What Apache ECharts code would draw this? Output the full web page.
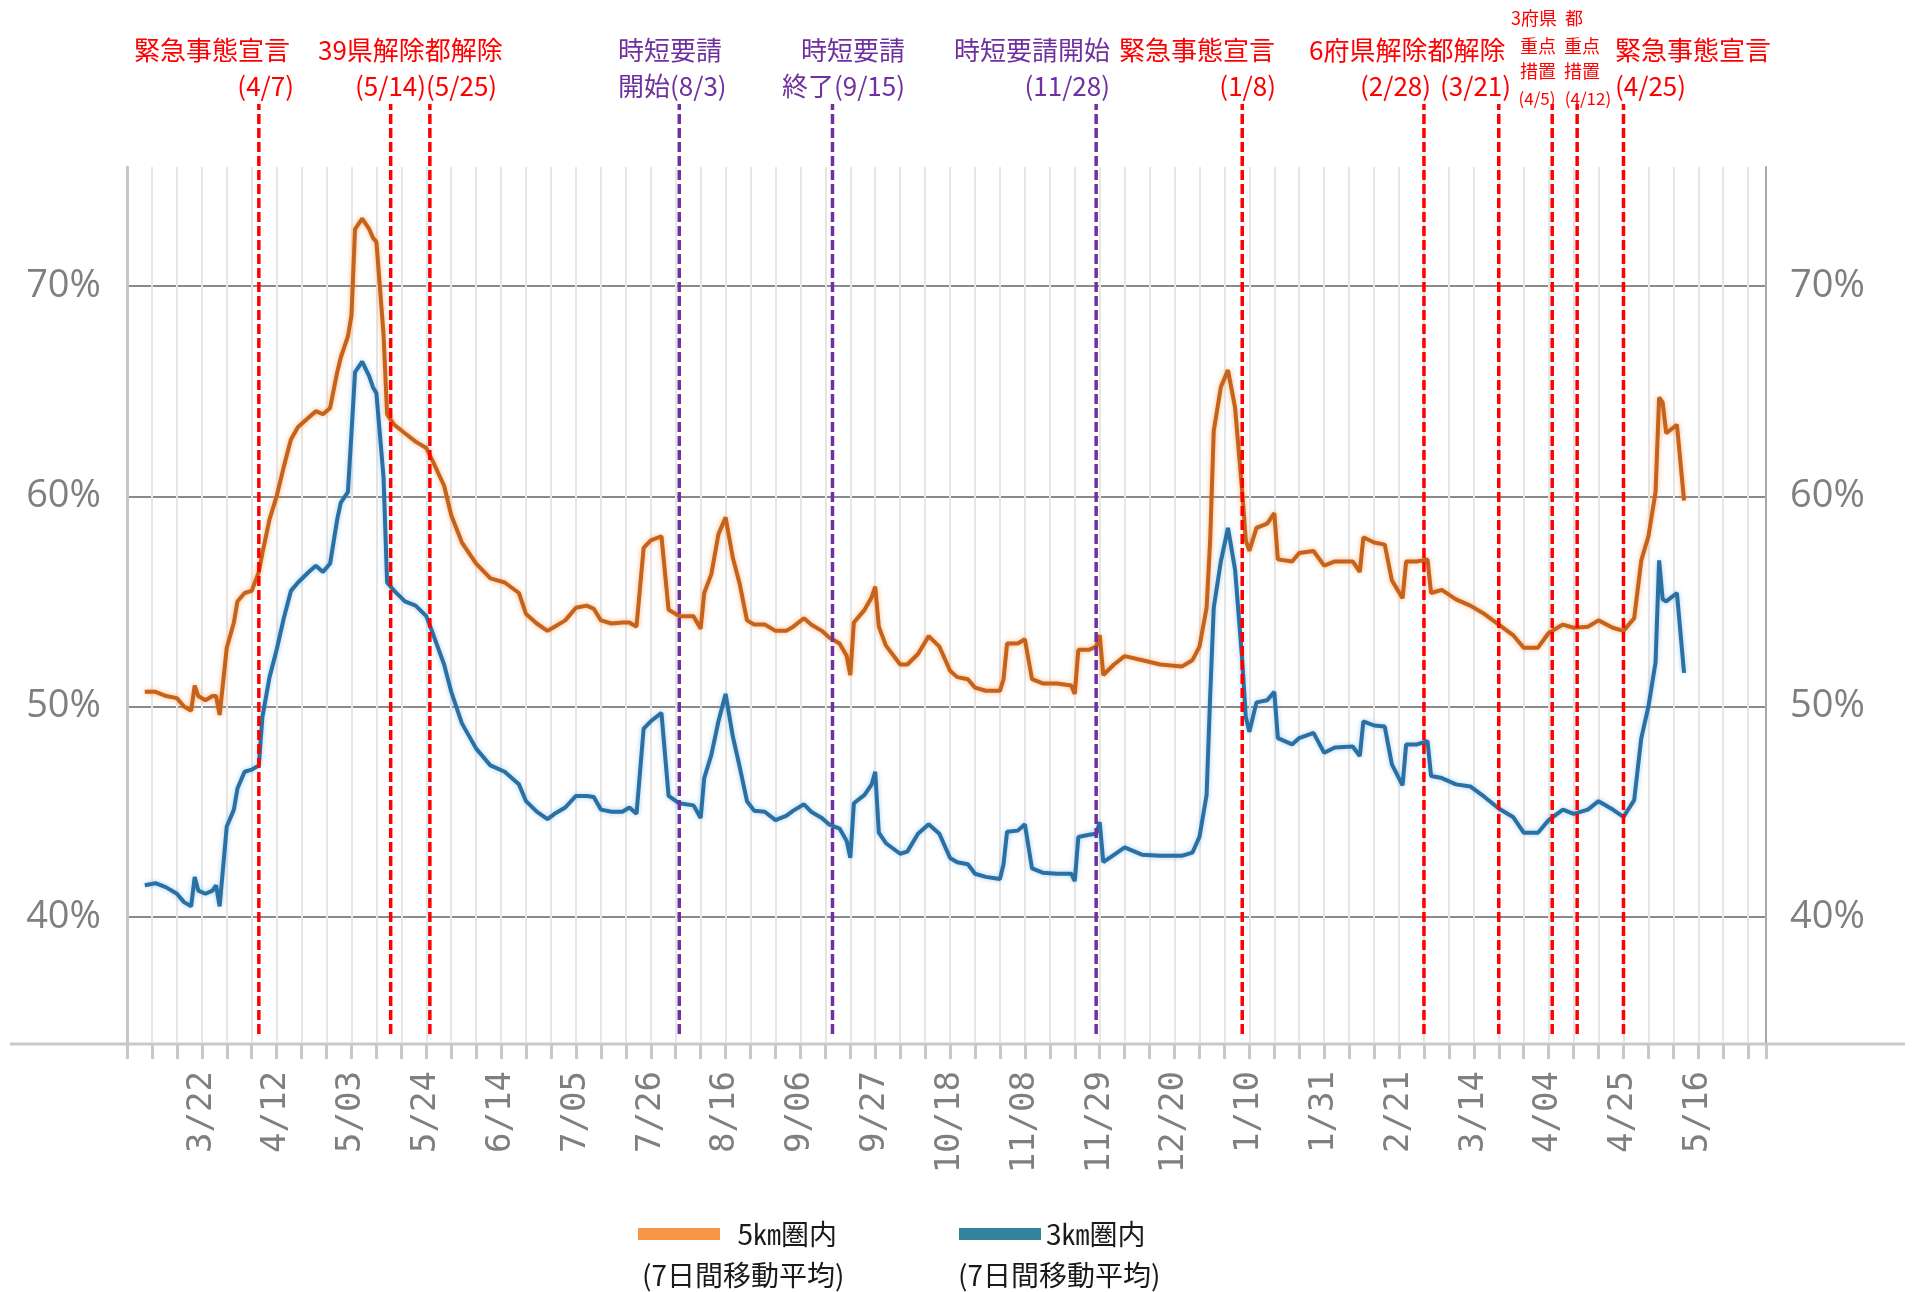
<!DOCTYPE html>
<html>
<head>
<meta charset="utf-8">
<title>5km圏内・3km圏内（7日間移動平均）</title>
<script src="https://cdn.jsdelivr.net/npm/echarts@6/dist/echarts.min.js"></script>
<style>
  html, body { margin: 0; padding: 0; background: #fff; }
  #chart { width: 1918px; height: 1292px; }
</style>
</head>
<body>
<div id="chart"></div>
<script>
// x軸は 2020-03-01 からの経過日数
const startDate = Date.UTC(2020, 2, 1)
const dayOf = s => {
  const [y, m, d] = s.split('-').map(Number)
  return Math.round((Date.UTC(y, m - 1, d) - startDate) / 86400000)
}

// 3週ごとの目盛りラベル（21日目から）
const tickLabels = ['3/22', '4/12', '5/03', '5/24', '6/14', '7/05', '7/26', '8/16', '9/06', '9/27',
  '10/18', '11/08', '11/29', '12/20', '1/10', '1/31', '2/21', '3/14', '4/04', '4/25', '5/16']

const days = [5, 8, 11, 14, 16, 18, 19, 20, 22, 24, 25, 26, 28, 30, 31, 33, 35, 37, 38, 40,
  42, 44, 46, 48, 51, 53, 55, 57, 59, 60, 62, 63, 64, 66, 68, 69, 70, 72, 73, 75,
  78, 81, 84, 86, 89, 91, 94, 98, 102, 106,
  110, 112, 115, 118, 120, 123, 126, 129, 131, 133, 136, 139, 141, 143, 145, 147, 150, 152, 155, 159,
  161, 162, 164, 166, 168, 170, 172, 174, 176, 179, 182, 185, 187, 190, 192, 195, 197, 200, 202, 203,
  204, 207, 209, 210, 211, 213, 217,
  219, 222, 225, 228, 231, 233, 236, 238, 241, 245, 246, 247, 250, 252, 254, 257, 261, 265, 266, 267,
  270, 272, 273, 274, 277, 280, 285, 290, 296, 299, 301, 303, 304, 305, 307, 309, 311, 313, 314, 315,
  317, 320, 322, 323, 327,
  329, 333, 336, 339, 344, 346, 347, 350, 353, 355, 358, 359, 362, 365, 366, 369, 373, 377, 381, 385,
  389, 392, 396, 399, 403, 406, 410, 413, 417, 420, 423, 425, 427, 429, 430, 431, 432, 435, 437]

const within5km = [50.7, 50.7, 50.5, 50.4, 50.0, 49.8, 51.0, 50.5, 50.3, 50.5, 50.5, 49.6, 52.8, 54.0, 55.0, 55.4, 55.5, 56.4, 57.3, 58.9,
  60.0, 61.4, 62.7, 63.3, 63.75, 64.05, 63.9, 64.2, 65.9, 66.6, 67.6, 68.6, 72.7, 73.2, 72.7, 72.3, 72.1, 67.7, 63.9, 63.4,
  63.0, 62.6, 62.3, 61.6, 60.5, 59.1, 57.8, 56.8, 56.1, 55.9,
  55.4, 54.4, 53.95, 53.6, 53.8, 54.1, 54.7, 54.8, 54.65, 54.1, 53.95, 54.0, 54.0, 53.8, 57.55, 57.9, 58.1, 54.6, 54.3, 54.3,
  53.7, 55.4, 56.3, 58.2, 59.0, 57.1, 55.8, 54.1, 53.9, 53.9, 53.6, 53.6, 53.8, 54.2, 53.9, 53.6, 53.3, 53.0, 52.4, 51.5,
  54.0, 54.6, 55.2, 55.7, 53.8, 52.9, 52.0,
  52.0, 52.5, 53.35, 52.85, 51.7, 51.4, 51.3, 50.9, 50.75, 50.75, 51.3, 53.0, 53.0, 53.2, 51.3, 51.1, 51.1, 51.0, 50.6, 52.7,
  52.7, 52.85, 53.4, 51.5, 52.0, 52.4, 52.2, 52.0, 51.9, 52.2, 52.85, 54.7, 57.9, 63.1, 65.2, 66.0, 64.2, 60.2, 57.9, 57.4,
  58.5, 58.7, 59.2, 57.0, 56.9,
  57.3, 57.4, 56.7, 56.9, 56.9, 56.4, 58.05, 57.8, 57.7, 56.0, 55.15, 56.9, 56.9, 57.0, 55.4, 55.55, 55.1, 54.8, 54.4, 53.9,
  53.4, 52.8, 52.8, 53.5, 53.9, 53.75, 53.8, 54.1, 53.75, 53.6, 54.2, 56.95, 58.1, 60.2, 64.7, 64.45, 63.0, 63.4, 59.8]

const within3km = [41.5, 41.6, 41.4, 41.1, 40.7, 40.5, 41.9, 41.25, 41.1, 41.25, 41.5, 40.5, 44.3, 45.1, 46.1, 46.9, 47.0, 47.2, 49.5, 51.4,
  52.7, 54.2, 55.5, 55.9, 56.4, 56.7, 56.4, 56.8, 58.9, 59.7, 60.2, 63.0, 65.9, 66.4, 65.7, 65.2, 64.9, 60.9, 55.9, 55.5,
  55.0, 54.8, 54.3, 53.4, 52.0, 50.7, 49.2, 48.0, 47.2, 46.9,
  46.3, 45.5, 45.0, 44.65, 44.9, 45.2, 45.75, 45.75, 45.7, 45.1, 45.0, 45.0, 45.2, 44.9, 48.95, 49.3, 49.7, 45.75, 45.4, 45.3,
  44.7, 46.6, 47.7, 49.3, 50.6, 48.6, 47.1, 45.5, 45.05, 45.0, 44.6, 44.8, 45.05, 45.35, 45.0, 44.7, 44.4, 44.2, 43.6, 42.8,
  45.4, 45.8, 46.3, 46.9, 44.0, 43.5, 43.0,
  43.1, 43.95, 44.4, 43.95, 42.8, 42.6, 42.5, 42.05, 41.9, 41.8, 42.5, 44.05, 44.1, 44.4, 42.3, 42.1, 42.05, 42.05, 41.7, 43.8,
  43.9, 43.95, 44.5, 42.6, 42.95, 43.3, 42.95, 42.9, 42.9, 43.05, 43.8, 45.8, 50.5, 54.7, 56.9, 58.5, 56.5, 52.2, 49.5, 48.8,
  50.2, 50.3, 50.7, 48.5, 48.2,
  48.5, 48.75, 47.8, 48.05, 48.1, 47.65, 49.3, 49.1, 49.05, 47.25, 46.25, 48.2, 48.2, 48.35, 46.7, 46.6, 46.3, 46.2, 45.7, 45.15,
  44.75, 44.0, 44.0, 44.6, 45.1, 44.9, 45.1, 45.5, 45.1, 44.75, 45.55, 48.5, 50.0, 52.1, 56.95, 55.1, 55.0, 55.4, 51.6]

// 緊急事態宣言・解除・重点措置（赤）、時短要請（紫）
const emergencyDates = ['2020-04-07', '2020-05-14', '2020-05-25', '2021-01-08', '2021-02-28',
  '2021-03-21', '2021-04-05', '2021-04-12', '2021-04-25']
const shortHoursDates = ['2020-08-03', '2020-09-15', '2020-11-28']

const RED = '#ff0000'
const PURPLE = '#7030a0'
const JP = '"Noto Sans CJK JP", sans-serif'

const eventSeries = (dates, color) => dates.map(s => ({
  type: 'line',
  xAxisIndex: 1,
  yAxisIndex: 2,
  silent: true,
  symbol: 'none',
  data: [[dayOf(s), 0], [dayOf(s), 1]],
  lineStyle: { color: color, width: 3.5, type: [10, 4] }
}))

// 注記テキスト
function txt(text, x, y, color, size, align) {
  return {
    type: 'text', x: x, y: y, silent: true,
    style: { text: text, fill: color, font: size + 'px ' + JP, align: align || 'left', verticalAlign: 'middle' }
  }
}

const noTrans = 'rgba(0,0,0,0)'
const yLabel = v => (v % 10 === 0 ? v + '%' : '')

const option = {
  backgroundColor: '#fff',
  animation: false,
  grid: [
    { left: 127, right: 152, top: 167, bottom: 249 },
    { left: 127, right: 152, top: 104, bottom: 258 }
  ],
  xAxis: [
    {
      type: 'value', gridIndex: 0, min: 0, max: 460, interval: 7,
      axisLine: { show: false },
      axisTick: { show: true, length: 16, lineStyle: { color: '#c8c8c8', width: 3 } },
      axisLabel: {
        rotate: 90, margin: 28, color: '#7f7f7f', fontSize: 34, fontFamily: 'DejaVu Sans Mono',
        formatter: d => (d > 0 && d % 21 === 0 ? (tickLabels[d / 21 - 1] || '') : '')
      },
      splitLine: { show: true, lineStyle: { color: '#e6e6e6', width: 2 } }
    },
    { type: 'value', gridIndex: 1, min: 0, max: 460, show: false }
  ],
  yAxis: [
    {
      type: 'value', gridIndex: 0, min: 34, max: 75.66, interval: 2,
      axisLine: { show: true, lineStyle: { color: '#c6c6c6', width: 3 } },
      axisTick: { show: false },
      axisLabel: { margin: 26, color: '#7f7f7f', fontSize: 38, fontFamily: 'Open Sans', formatter: yLabel },
      // 10%ごとだけ線を引く（34からの2刻みで5本に1本）
      splitLine: { show: true, lineStyle: { color: [noTrans, noTrans, noTrans, '#8a8a8a', noTrans], width: 2 } }
    },
    {
      type: 'value', gridIndex: 0, position: 'right', min: 34, max: 75.66, interval: 2,
      axisLine: { show: true, lineStyle: { color: '#a8a8a8', width: 2 } },
      axisTick: { show: false },
      axisLabel: { margin: 24, color: '#7f7f7f', fontSize: 38, fontFamily: 'Open Sans', formatter: yLabel },
      splitLine: { show: false }
    },
    { type: 'value', gridIndex: 1, min: 0, max: 1, show: false }
  ],
  legend: [
    {
      data: ['5㎞圏内'], left: 638, top: 1220, padding: 0,
      icon: 'rect', itemWidth: 82, itemHeight: 12,
      formatter: n => '  ' + n,
      textStyle: { fontSize: 28, fontFamily: JP, color: '#1a1a1a' }
    },
    {
      data: ['3㎞圏内'], left: 959, top: 1220, padding: 0,
      icon: 'rect', itemWidth: 82, itemHeight: 12,
      textStyle: { fontSize: 28, fontFamily: JP, color: '#1a1a1a' }
    }
  ],
  series: [
    {
      name: '5㎞圏内', type: 'line', showSymbol: false, silent: true,
      data: days.map((d, i) => [d, within5km[i]]),
      itemStyle: { color: '#f79646' },
      lineStyle: { color: '#c5621c', width: 4, shadowColor: 'rgba(247,150,70,0.7)', shadowBlur: 5 }
    },
    {
      name: '3㎞圏内', type: 'line', showSymbol: false, silent: true,
      data: days.map((d, i) => [d, within3km[i]]),
      itemStyle: { color: '#31849b' },
      lineStyle: { color: '#2a70a3', width: 4, shadowColor: 'rgba(110,175,230,0.6)', shadowBlur: 5 }
    },
    ...eventSeries(emergencyDates, RED),
    ...eventSeries(shortHoursDates, PURPLE)
  ],
  graphic: [
    // 横軸の線（図の幅いっぱい）
    { type: 'line', silent: true, shape: { x1: 10, y1: 1044, x2: 1905, y2: 1044 }, style: { stroke: '#c9c9c9', lineWidth: 3 } },

    txt('緊急事態宣言', 134, 50, RED, 26),
    txt('(4/7)', 294, 86, RED, 26, 'right'),
    txt('39県解除都解除', 318, 50, RED, 26),
    txt('(5/14)(5/25)', 355, 86, RED, 26),
    txt('時短要請', 618, 50, PURPLE, 26),
    txt('開始(8/3)', 618, 86, PURPLE, 26),
    txt('時短要請', 905, 50, PURPLE, 26, 'right'),
    txt('終了(9/15)', 905, 86, PURPLE, 26, 'right'),
    txt('時短要請開始', 954, 50, PURPLE, 26),
    txt('(11/28)', 1110, 86, PURPLE, 26, 'right'),
    txt('緊急事態宣言', 1119, 50, RED, 26),
    txt('(1/8)', 1276, 86, RED, 26, 'right'),
    txt('6府県解除都解除', 1309, 50, RED, 26),
    txt('(2/28)', 1360, 86, RED, 26),
    txt('(3/21)', 1440, 86, RED, 26),
    txt('3府県', 1534, 18, RED, 18, 'center'),
    txt('都', 1574, 18, RED, 18, 'center'),
    txt('重点', 1538, 46, RED, 18, 'center'),
    txt('重点', 1582, 46, RED, 18, 'center'),
    txt('措置', 1538, 71, RED, 18, 'center'),
    txt('措置', 1582, 71, RED, 18, 'center'),
    txt('(4/5)', 1537, 99, RED, 17, 'center'),
    txt('(4/12)', 1588, 99, RED, 17, 'center'),
    txt('緊急事態宣言', 1615, 50, RED, 26),
    txt('(4/25)', 1615, 86, RED, 26),

    txt('(7日間移動平均)', 642, 1275, '#1a1a1a', 28),
    txt('(7日間移動平均)', 958, 1275, '#1a1a1a', 28)
  ]
}

const chart = echarts.init(document.getElementById('chart'))
chart.setOption(option)
</script>
</body>
</html>
